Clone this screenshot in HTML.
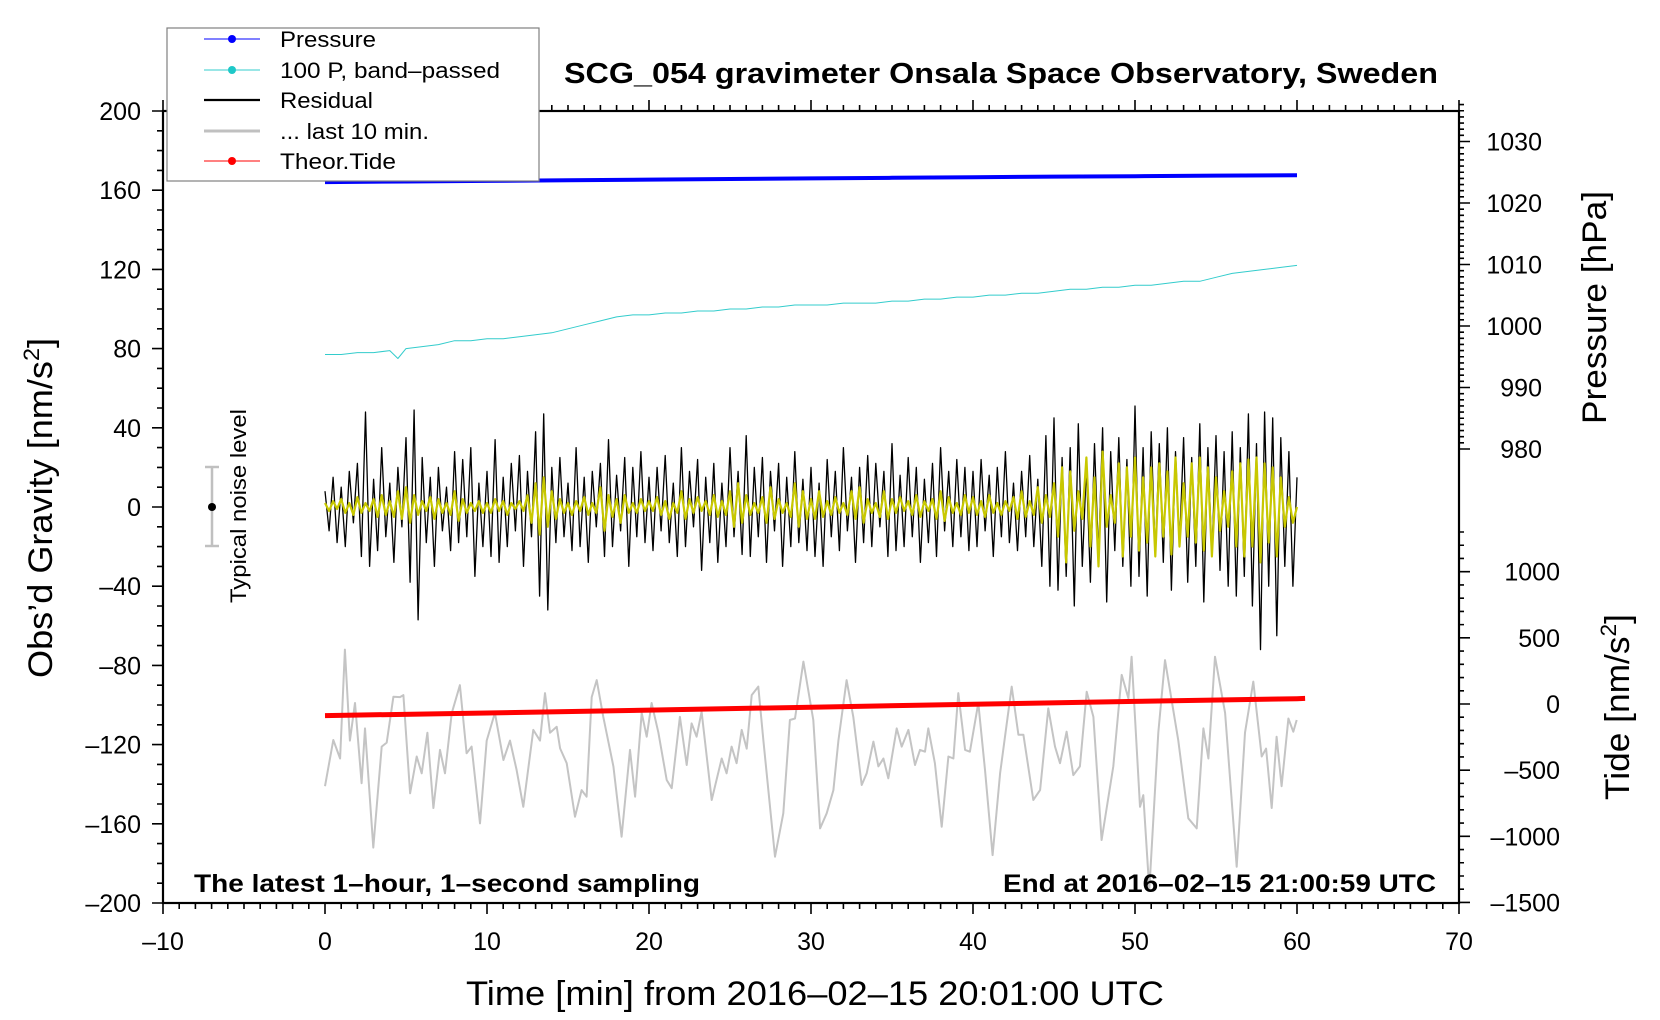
<!DOCTYPE html>
<html><head><meta charset="utf-8"><style>
html,body{margin:0;padding:0;background:#fff;}
svg{display:block;font-family:"Liberation Sans",sans-serif;}
</style></head><body>
<svg id="chart" width="1660" height="1020" viewBox="0 0 1660 1020" xmlns="http://www.w3.org/2000/svg">
<rect width="1660" height="1020" fill="#fff"/>
<g id="axes"></g>
<g id="series"></g>
<g id="labels">
<text x="564" y="83" font-size="29" font-weight="bold" textLength="874" lengthAdjust="spacingAndGlyphs">SCG_054 gravimeter Onsala Space Observatory, Sweden</text>
<text x="466" y="1005" font-size="34" textLength="698" lengthAdjust="spacingAndGlyphs">Time [min] from 2016–02–15 20:01:00 UTC</text>
<text transform="translate(52,678) rotate(-90)" font-size="34" textLength="340" lengthAdjust="spacingAndGlyphs">Obs’d Gravity [nm/s<tspan font-size="22" dy="-13">2</tspan><tspan dy="13">]</tspan></text>
<text transform="translate(1606,424) rotate(-90)" font-size="34" textLength="233" lengthAdjust="spacingAndGlyphs">Pressure [hPa]</text>
<text transform="translate(1629,800) rotate(-90)" font-size="34" textLength="186" lengthAdjust="spacingAndGlyphs">Tide [nm/s<tspan font-size="22" dy="-13">2</tspan><tspan dy="13">]</tspan></text>
<text x="194" y="892" font-size="25" font-weight="bold" textLength="506" lengthAdjust="spacingAndGlyphs">The latest 1–hour, 1–second sampling</text>
<text x="1003" y="892" font-size="25" font-weight="bold" textLength="433" lengthAdjust="spacingAndGlyphs">End at 2016–02–15 21:00:59 UTC</text>
<g>
<line x1="212" y1="467" x2="212" y2="546" stroke="#c0c0c0" stroke-width="2.5"/>
<line x1="205" y1="467" x2="219" y2="467" stroke="#c0c0c0" stroke-width="2.5"/>
<line x1="205" y1="546" x2="219" y2="546" stroke="#c0c0c0" stroke-width="2.5"/>
<circle cx="212" cy="507" r="4" fill="#000"/>
<text transform="translate(246,603) rotate(-90)" font-size="22" textLength="194" lengthAdjust="spacingAndGlyphs">Typical noise level</text>
</g>
</g>
<g id="legend">
<rect x="167" y="28" width="372" height="153" fill="#fff" stroke="#808080" stroke-width="1.2"/>
<g><line x1="204" y1="39" x2="260" y2="39" stroke="#0000ff" stroke-width="1"/><circle cx="232" cy="39" r="4" fill="#0000ff"/><text x="280" y="47" font-size="22" textLength="96" lengthAdjust="spacingAndGlyphs">Pressure</text></g>
<g><line x1="204" y1="70" x2="260" y2="70" stroke="#33cccc" stroke-width="1"/><circle cx="232" cy="70" r="4" fill="#1ec8c8"/><text x="280" y="78" font-size="22" textLength="220" lengthAdjust="spacingAndGlyphs">100 P, band–passed</text></g>
<g><line x1="204" y1="100" x2="260" y2="100" stroke="#000" stroke-width="2.2"/><text x="280" y="108" font-size="22" textLength="93" lengthAdjust="spacingAndGlyphs">Residual</text></g>
<g><line x1="204" y1="131" x2="260" y2="131" stroke="#c0c0c0" stroke-width="3"/><text x="280" y="139" font-size="22" textLength="149" lengthAdjust="spacingAndGlyphs">... last 10 min.</text></g>
<g><line x1="204" y1="161" x2="260" y2="161" stroke="#ff0000" stroke-width="1"/><circle cx="232" cy="161" r="4" fill="#ff0000"/><text x="280" y="169" font-size="22" textLength="116" lengthAdjust="spacingAndGlyphs">Theor.Tide</text></g>
</g>
</svg>
<script>
// ---- data ----
const xTicks = [-10,0,10,20,30,40,50,60,70];
const xTickLabels = ["–10","0","10","20","30","40","50","60","70"];
const gTicks = [200,160,120,80,40,0,-40,-80,-120,-160,-200];
const gTickLabels = ["200","160","120","80","40","0","–40","–80","–120","–160","–200"];
const pTicks = [1030,1020,1010,1000,990,980];
const pTickLabels = ["1030","1020","1010","1000","990","980"];
const tTicks = [1000,500,0,-500,-1000,-1500];
const tTickLabels = ["1000","500","0","–500","–1000","–1500"];

const pressureTimes = [0,5,10,15,20,25,30,35,40,45,50,55,60];
const pressureHPa = [1023.4,1023.5,1023.6,1023.7,1023.8,1023.9,1024.0,1024.1,1024.2,1024.3,1024.35,1024.45,1024.5];

const bandTimes = [0,1,2,3,4,4.5,5,6,7,8,9,10,11,12,13,14,15,16,17,18,19,20,21,22,23,24,25,26,27,28,29,30,31,32,33,34,35,36,37,38,39,40,41,42,43,44,45,46,47,48,49,50,51,52,53,54,55,56,57,58,59,60];
const bandValues = [77,77,78,78,79,75,80,81,82,84,84,85,85,86,87,88,90,92,94,96,97,97,98,98,99,99,100,100,101,101,102,102,102,103,103,103,104,104,105,105,106,106,107,107,108,108,109,110,110,111,111,112,112,113,114,114,116,118,119,120,121,122];

const residualValues = [
8,-12,15,-18,10,-20,18,-8,22,-25,48,-30,14,-22,30,-15,12,-28,20,-10,35,-38,49,-57,25,-18,15,-30,20,-12,10,-22,28,-18,24,-15,30,-35,12,-20,
18,-25,34,-28,15,-20,22,-12,26,-30,18,-15,38,-45,47,-52,20,-18,25,-15,12,-22,30,-20,15,-28,18,-10,22,-25,34,-20,16,-12,25,-30,20,-15,28,-18,
15,-22,20,-12,26,-18,12,-25,30,-20,18,-10,24,-32,15,-18,22,-28,12,-20,30,-15,18,-24,36,-25,20,-15,25,-28,18,-12,22,-30,15,-20,28,-18,14,-22,
20,-25,12,-30,24,-15,18,-22,30,-12,15,-28,20,-18,26,-20,22,-10,18,-25,32,-22,16,-20,25,-15,20,-28,14,-18,22,-25,30,-12,18,-20,24,-15,20,-22,
18,-20,24,-12,16,-25,20,-15,28,-18,12,-22,18,-15,26,-20,14,-30,36,-40,45,-42,25,-35,30,-50,42,-30,20,-38,32,-25,40,-48,28,-22,35,-30,24,-40,
51,-35,30,-45,38,-25,32,-28,40,-42,28,-20,35,-38,25,-30,42,-48,30,-25,36,-32,28,-40,38,-45,30,-35,47,-50,32,-72,48,-40,45,-65,35,-30,28,-40,15];

const filteredValues = [
2,-2,3,-1,4,-3,2,-4,5,-3,2,-2,4,-5,6,-4,3,-5,8,-6,10,-8,6,-4,3,-2,5,-6,4,-3,2,-4,8,-7,4,-3,2,-2,3,-3,
2,-3,4,-2,3,-4,2,-1,3,-2,6,-8,12,-14,15,-10,8,-6,4,-3,2,-4,3,-2,5,-4,2,-3,10,-12,6,-5,4,-8,6,-3,2,-3,4,-2,
3,-2,5,-4,3,-6,2,-3,8,-6,4,-3,5,-2,3,-4,6,-5,3,-4,8,-10,12,-8,6,-4,2,-3,5,-8,10,-6,4,-3,2,-5,12,-10,8,-6,
4,-6,8,-5,3,-4,5,-3,2,-4,8,-6,10,-8,4,-3,2,-5,8,-6,4,-3,5,-2,3,-4,6,-5,3,-2,4,-6,8,-7,5,-3,2,-4,6,-3,
5,-4,3,-5,6,-3,2,-4,3,-2,5,-6,8,-5,3,-4,10,-8,6,-5,12,-15,20,-28,18,-12,8,-6,25,-20,15,-30,28,-10,6,-8,22,-25,20,-15,
25,-22,15,-18,20,-25,22,-15,18,-24,25,-20,12,-15,22,-18,25,-22,20,-25,15,-12,8,-10,18,-20,22,-25,24,-20,25,-28,22,-18,20,-25,15,-10,5,-8,0];

const lastTimes = [0,0.51,0.93,1.23,1.54,1.85,2.26,2.47,2.98,3.5,3.81,4.22,4.63,4.84,5.25,5.66,5.97,6.32,6.69,7.1,7.41,7.82,8.33,8.74,9.05,9.57,9.98,10.49,11.01,11.42,11.83,12.24,12.86,13.27,13.58,13.89,14.3,14.51,14.92,15.43,15.84,16.15,16.46,16.77,17.18,17.8,18.31,18.83,19.14,19.55,19.86,20.16,20.58,21.09,21.4,21.91,22.33,22.63,22.94,23.25,23.87,24.49,24.79,25.1,25.41,25.72,26.03,26.34,26.75,27.06,27.78,28.29,28.7,29.01,29.53,
30.14,30.56,30.97,31.38,31.69,32.2,32.61,33.13,33.44,33.85,34.16,34.47,34.77,35.29,35.6,36.01,36.42,36.73,37.04,37.24,37.65,38.07,38.48,38.79,39.09,39.51,39.81,40.33,40.74,41.21,41.67,42.39,42.8,43.11,43.72,44.14,44.65,45.06,45.37,45.78,46.19,46.6,47.02,47.43,47.94,48.66,49.18,49.59,49.79,50.31,50.51,50.88,51.44,51.85,52.67,53.29,53.81,54.22,54.53,54.94,55.56,56.28,56.79,57.3,57.82,58.09,58.44,58.74,59.05,59.47,59.77,59.98];
const lastValues = [-141,-117.7,-127,-72,-118,-99,-139.5,-111.8,-172,-121,-119,-95.8,-96,-95,-144.6,-126,-134.5,-114,-152,-122.7,-134.5,-104.2,-90,-124.4,-121,-159.8,-118,-104,-127.8,-118,-132.8,-151.4,-112.6,-118,-94,-114,-111,-121.9,-129.4,-156.4,-143,-146.3,-96,-87.4,-106,-131,-166.5,-122.7,-146.3,-104,-116,-99,-114,-137.9,-142,-106,-130.3,-109.3,-116,-103.4,-148,-127,-134.5,-121,-129.4,-112.6,-122,-95,-90.7,-118,-176.6,-154.7,-107.6,-106.8,-78.1,
-107.6,-162.3,-154.7,-143,-118,-87.4,-106,-140.4,-134.5,-118.5,-131,-127,-137,-111.8,-121,-112.6,-130.3,-122.7,-123.6,-111.8,-129.4,-161.5,-126,-127,-94,-122.7,-123.6,-99,-132.8,-175.8,-134.5,-90.7,-115,-115,-148,-143,-101.7,-121,-129.4,-113.5,-135.4,-131,-93.3,-106,-168.2,-131,-84.8,-96.6,-75.6,-151.4,-145.5,-193.4,-114,-77.3,-118,-157.2,-162.3,-111.8,-127,-75.6,-104,-181.7,-114,-88.2,-126,-122,-152,-116,-141,-106.8,-113.5,-107.6];

const tideTimes = [0,10,20,30,40,50,60,60.5];
const tideValues = [-88,-68,-46,-24,-2,20,40,42];

// ---- scales ----
const X = t => 325 + t*16.2;
const Yg = g => 507 - g*1.98;
const Yp = p => 141.5 + (1030-p)*6.15;
const Yt = v => 704 - v*0.1323;
const NS = "http://www.w3.org/2000/svg";
const axes = document.getElementById('axes');
const series = document.getElementById('series');
function mk(tag, attrs, parent){const e=document.createElementNS(NS,tag);for(const k in attrs)e.setAttribute(k,attrs[k]);parent.appendChild(e);return e;}

// frame
const frame = mk('rect',{x:163,y:111,width:1296,height:792,fill:'none',stroke:'#000','stroke-width':2.2},axes);



// x ticks (bottom + top)
let d='';
for(let t=-10;t<=70;t++){const L=(t%10===0)?11:6;const x=X(t);d+=`M${x} 903V${903+L}M${x} 111V${111-L}`;}
// left ticks
for(let g=-200;g<=200;g+=10){const L=(g%40===0)?11:6;const y=Yg(g);d+=`M163 ${y}H${163-L}`;}
// right pressure ticks
for(let p=980;p<=1036;p++){const L=(p%10===0)?11:5;const y=Yp(p);d+=`M1459 ${y}H${1459+L}`;}
// right tide ticks
for(let v=-1500;v<=1300;v+=100){const L=(v%500===0)?11:5;const y=Yt(v);d+=`M1459 ${y}H${1459+L}`;}
const ticks = mk('path',{d:d,stroke:'#000','stroke-width':1.6,fill:'none'},axes);



function label(txt,x,y,anchor){const e=mk('text',{x:x,y:y,'font-size':25,'text-anchor':anchor},axes);e.textContent=txt;return e;}
xTicks.forEach((t,i)=>{const e=label(xTickLabels[i],X(t),950,'middle');

});
gTicks.forEach((g,i)=>{const e=label(gTickLabels[i],141,Yg(g)+9,'end');

});
pTicks.forEach((p,i)=>{const e=label(pTickLabels[i],1542,Yp(p)+9,'end');

});
tTicks.forEach((v,i)=>{const e=label(tTickLabels[i],1560,Yt(v)+9,'end');

});

function line(times, vals, yf, color, w, name){
  const pts = vals.map((v,i)=>X(times[i]).toFixed(1)+','+yf(v).toFixed(1)).join(' ');
  const e = mk('polyline',{points:pts,fill:'none',stroke:color,'stroke-width':w,'stroke-linejoin':'round'},series);
  
  
  return e;
}
const evenTimes = arr => arr.map((_,i)=>i*60/(arr.length-1));

line(lastTimes,lastValues,Yg,'#c4c4c4',2,'last-10-min-line');
line(evenTimes(residualValues),residualValues,Yg,'#000',1.3,'residual-line');
line(evenTimes(filteredValues),filteredValues,Yg,'#c8c800',2.2,'filtered-residual-line');
line(bandTimes,bandValues,Yg,'#33cccc',1,'band-passed-pressure-line');
line(pressureTimes,pressureHPa,Yp,'#0000ff',4,'pressure-line');
line(tideTimes,tideValues,Yt,'#ff0000',5,'theoretical-tide-line');
</script>
</body></html>
